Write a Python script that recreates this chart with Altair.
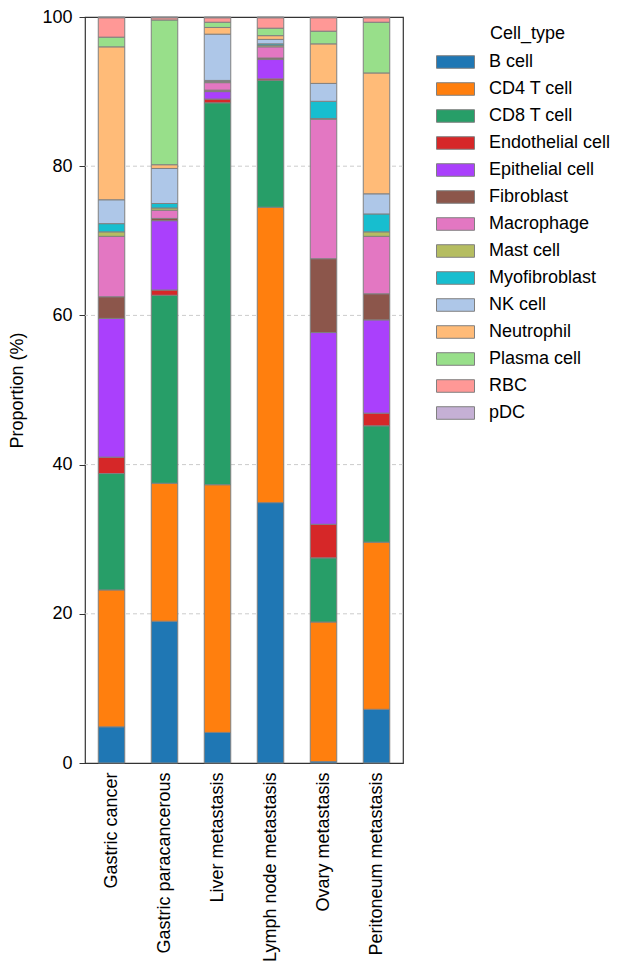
import altair as alt
import pandas as pd

samples = ["Gastric cancer", "Gastric paracancerous", "Liver metastasis",
           "Lymph node metastasis", "Ovary metastasis", "Peritoneum metastasis"]

cell_types = ["B cell", "CD4 T cell", "CD8 T cell", "Endothelial cell", "Epithelial cell",
              "Fibroblast", "Macrophage", "Mast cell", "Myofibroblast", "NK cell",
              "Neutrophil", "Plasma cell", "RBC", "pDC"]

colors = ["#1f77b4", "#ff7f0e", "#279e68", "#d62728", "#aa40fc", "#8c564b", "#e377c2",
          "#b5bd61", "#17becf", "#aec7e8", "#ffbb78", "#98df8a", "#ff9896", "#c5b0d5"]

b_cell = [4.85, 19.0, 4.1, 34.9, 0.2, 7.2]
cd4_t = [18.35, 18.5, 33.2, 39.6, 18.7, 22.4]
cd8_t = [15.6, 25.2, 51.2, 17.0, 8.6, 15.6]
endothelial = [2.2, 0.7, 0.5, 0.2, 4.5, 1.7]
epithelial = [18.6, 9.3, 1.0, 2.6, 25.7, 12.5]
fibroblast = [2.9, 0.3, 0.2, 0.2, 9.9, 3.5]
macrophage = [8.1, 1.1, 1.0, 1.5, 18.7, 7.7]
mast = [0.6, 0.3, 0.15, 0.2, 0.1, 0.6]
myofibroblast = [1.1, 0.6, 0.15, 0.2, 2.3, 2.4]
nk = [3.2, 4.7, 6.2, 0.6, 2.4, 2.7]
neutrophil = [20.5, 0.5, 0.9, 0.5, 5.3, 16.2]
plasma = [1.3, 19.4, 0.7, 1.0, 1.7, 6.8]
rbc = [2.6, 0.3, 0.6, 1.4, 1.8, 0.6]
pdc = [0.1, 0.1, 0.1, 0.1, 0.1, 0.1]

y_ticks = [0, 20, 40, 60, 80, 100]
grid_values = [20, 40, 60, 80]

series = [b_cell, cd4_t, cd8_t, endothelial, epithelial, fibroblast, macrophage,
          mast, myofibroblast, nk, neutrophil, plasma, rbc, pdc]

rows = []
for i, (ct, vals) in enumerate(zip(cell_types, series)):
    for s, v in zip(samples, vals):
        rows.append({"sample": s, "cell_type": ct, "value": v, "order": i})
df = pd.DataFrame(rows)
grid_df = pd.DataFrame({"g": grid_values})

FONT = "Liberation Sans"
FS = 18

yscale = alt.Scale(domain=[0, 100], nice=False)
yaxis = alt.Axis(title="Proportion (%)", values=y_ticks,
                 grid=False, domain=False, tickSize=6, tickColor="#333333",
                 labelFontSize=FS, labelColor="black", labelFont=FONT,
                 labelPadding=7, titleFontSize=FS, titleFontWeight="normal",
                 titleColor="black", titleFont=FONT, titlePadding=15)

grid = alt.Chart(grid_df).mark_rule(color="#cccccc", strokeWidth=1, strokeDash=[4, 3]).encode(
    y=alt.Y("g:Q", scale=yscale, axis=yaxis, title="Proportion (%)")
)

bars = alt.Chart(df).mark_bar(stroke="#808080", strokeWidth=1).encode(
    x=alt.X("sample:N", sort=samples,
            scale=alt.Scale(paddingInner=0.5, paddingOuter=0.25),
            axis=alt.Axis(title=None, labelAngle=-90, ticks=False, domain=False,
                          labelPadding=9, labelFontSize=FS, labelColor="black",
                          labelFont=FONT, labelLimit=0)),
    y=alt.Y("value:Q", stack="zero", scale=yscale, axis=yaxis, title="Proportion (%)"),
    color=alt.Color("cell_type:N",
                    scale=alt.Scale(domain=cell_types, range=colors),
                    legend=alt.Legend(title="Cell_type", orient="none", legendX=360.5, legendY=8,
                                      titleFontSize=FS, titleFontWeight="normal",
                                      titleColor="black", titleFont=FONT, titlePadding=9,
                                      titleAnchor="middle",
                                      labelFontSize=FS, labelColor="black", labelFont=FONT,
                                      labelOffset=23.5, rowPadding=8, labelLimit=0,
                                      symbolType="M-2,-0.66H2V0.66H-2Z", symbolSize=361,
                                      symbolStrokeColor="#808080", symbolStrokeWidth=1,
                                      symbolOpacity=1)),
    order=alt.Order("order:Q", sort="ascending"),
)

chart = alt.layer(grid, bars).properties(
    width=318, height=746,
    padding={"left": 0, "top": 0, "right": 0, "bottom": 0},
).configure_view(stroke="#333333", strokeWidth=1.2)

chart.save("out.html", embed_options={"renderer": "svg", "actions": False})
